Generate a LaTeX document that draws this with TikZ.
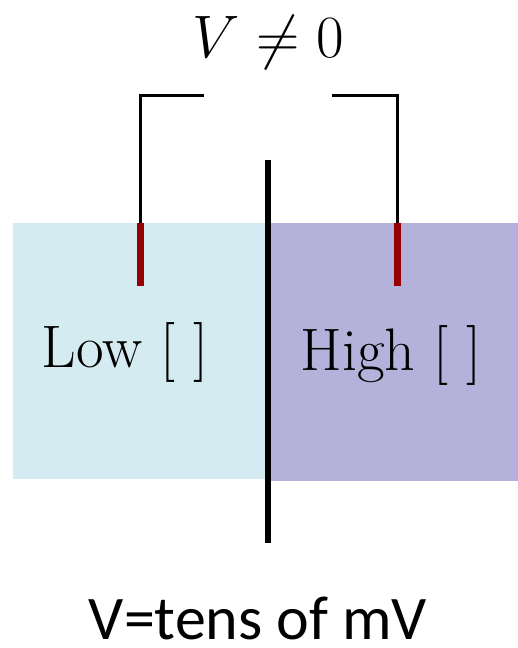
\RequirePackage{fix-cm}
\documentclass[tikz,border=0pt]{standalone}
\usepackage{fontspec}
\newfontfamily\captionfont{Carlito}
\usepackage{tikz}
\definecolor{lowbath}{RGB}{212,235,241}
\definecolor{highbath}{RGB}{180,178,218}
\definecolor{probe}{RGB}{150,0,0}
\tikzset{
    bathlabel/.style={font=\fontsize{30}{32}\selectfont, anchor=base, inner sep=0pt},
    wire/.style={line width=1.5pt},
    electrode/.style={line width=3.5pt, probe}
}

\begin{document}
\begin{tikzpicture}[x=0.5pt, y=-0.5pt]
        \useasboundingbox (0,0) rectangle (518,648);
        % two compartments
        \fill[lowbath] (13,223) rectangle (268,479);
        \fill[highbath] (268,223) rectangle (518,481);
        % membrane
        \draw[line width=3pt] (268,160) -- (268,543);
        % electrodes
        \coordinate (lefttop) at (140,223);
        \coordinate (leftbot) at (140,286);
        \coordinate (righttop) at (397,223);
        \coordinate (rightbot) at (397,286);
        \draw[electrode] (lefttop) -- (leftbot);
        \draw[electrode] (righttop) -- (rightbot);
        % wires to the meter
        \coordinate (leftend) at (204,95);
        \coordinate (rightend) at (332,95);
        \draw[wire] (lefttop) |- (leftend);
        \draw[wire] (righttop) |- (rightend);
        % labels
        \node[bathlabel] (volt) at (268,57) {$V \neq 0$};
        \node[bathlabel] (low) at (125,367) {Low [\hspace{0.3em}]};
        \node[bathlabel] (high) at (391,370) {High [\hspace{0.3em}]};
        \node[bathlabel, font=\captionfont\fontsize{31}{34}\selectfont] (caption) at (258,639) {V=tens of mV};
    \end{tikzpicture}
\end{document}
